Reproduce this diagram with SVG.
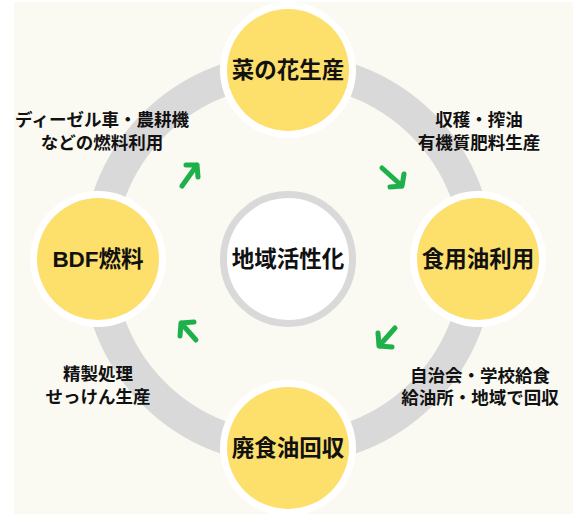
<svg xmlns="http://www.w3.org/2000/svg" width="573" height="514" viewBox="0 0 573 514">
<style>
.t{font-family:"Liberation Sans","Noto Sans CJK JP",sans-serif;font-weight:bold;fill:#111;text-anchor:middle;dominant-baseline:central}
.n{font-size:22.5px}
.s{font-size:17.5px}
.halo{fill:#fff}
.node{fill:#FDDF6C}
.arr{fill:none;stroke:#1DB04B;stroke-width:5;stroke-linecap:round;stroke-linejoin:round}
</style>
<rect x="0" y="0" width="573" height="514" fill="#fff"/>
<rect x="14" y="2" width="559" height="512" fill="#FAF9F2"/>
<circle cx="288" cy="259" r="190" fill="none" stroke="#D9D9D9" stroke-width="32"/>
<g id="center">
<circle cx="288" cy="259" r="64.5" fill="#fff" stroke="#D9D9D9" stroke-width="7"/>
<text class="t n" x="288" y="259">地域活性化</text>
</g>
<g id="node-top">
<circle class="halo" cx="288" cy="70" r="68"/>
<circle class="node" cx="288" cy="70" r="61"/>
<text class="t n" x="288" y="70">菜の花生産</text>
</g>
<g id="node-right">
<circle class="halo" cx="478" cy="259" r="68"/>
<circle class="node" cx="478" cy="259" r="61"/>
<text class="t n" x="478" y="259">食用油利用</text>
</g>
<g id="node-bottom">
<circle class="halo" cx="288" cy="448" r="68"/>
<circle class="node" cx="288" cy="448" r="61"/>
<text class="t n" x="288" y="448">廃食油回収</text>
</g>
<g id="node-left">
<circle class="halo" cx="98" cy="259" r="68"/>
<circle class="node" cx="98" cy="259" r="61"/>
<text class="t n" x="98" y="259">BDF燃料</text>
</g>
<g id="labels">
<text class="t s" x="102" y="120">ディーゼル車・農耕機</text>
<text class="t s" x="102" y="143">などの燃料利用</text>
<text class="t s" x="479" y="120">収穫・搾油</text>
<text class="t s" x="479" y="143">有機質肥料生産</text>
<text class="t s" x="480" y="376">自治会・学校給食</text>
<text class="t s" x="480" y="398">給油所・地域で回収</text>
<text class="t s" x="98" y="374">精製処理</text>
<text class="t s" x="98" y="397">せっけん生産</text>
</g>
<g id="connectors">
<path class="arr" d="M182 186 L197 165 M186 165 L197 165 L198 177"/>
<path class="arr" d="M382 168 L402 186 M404 174 L402 186 L390 187"/>
<path class="arr" d="M395 328 L379 346 M378 333 L379 346 L392 347"/>
<path class="arr" d="M196 340 L181 323 M180 336 L181 323 L194 322"/>
</g>
</svg>
